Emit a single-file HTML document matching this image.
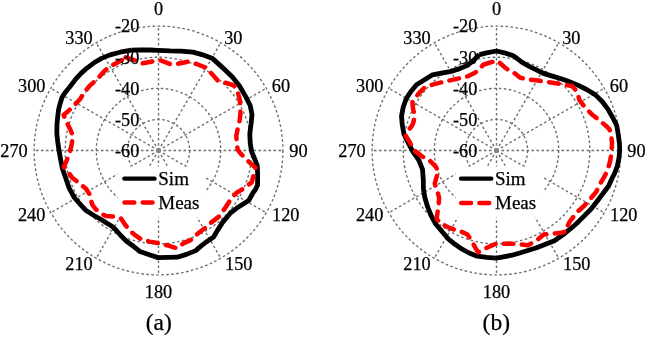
<!DOCTYPE html>
<html><head><meta charset="utf-8"><style>
html,body{margin:0;padding:0;background:#fff;overflow:hidden;}
svg{display:block;filter:blur(0.35px);}
text{font-family:"Liberation Serif",serif;font-size:18.3px;fill:#000;stroke:#000;stroke-width:0.25px;}
</style></head><body>
<svg width="646" height="338" viewBox="0 0 646 338">
<circle cx="158.5" cy="150.5" r="31.10" fill="none" stroke="#6c6c6c" stroke-width="1.35" stroke-dasharray="2.6 2.4"/>
<circle cx="158.5" cy="150.5" r="62.20" fill="none" stroke="#6c6c6c" stroke-width="1.35" stroke-dasharray="2.6 2.4"/>
<circle cx="158.5" cy="150.5" r="93.30" fill="none" stroke="#6c6c6c" stroke-width="1.35" stroke-dasharray="2.6 2.4"/>
<circle cx="158.5" cy="150.5" r="124.40" fill="none" stroke="#6c6c6c" stroke-width="1.35" stroke-dasharray="2.6 2.4"/>
<line x1="158.5" y1="150.5" x2="158.50" y2="26.10" stroke="#6c6c6c" stroke-width="1.35" stroke-dasharray="2.6 2.4"/>
<line x1="158.5" y1="150.5" x2="220.70" y2="42.77" stroke="#6c6c6c" stroke-width="1.35" stroke-dasharray="2.6 2.4"/>
<line x1="158.5" y1="150.5" x2="266.23" y2="88.30" stroke="#6c6c6c" stroke-width="1.35" stroke-dasharray="2.6 2.4"/>
<line x1="158.5" y1="150.5" x2="282.90" y2="150.50" stroke="#6c6c6c" stroke-width="1.35" stroke-dasharray="2.6 2.4"/>
<line x1="158.5" y1="150.5" x2="266.23" y2="212.70" stroke="#6c6c6c" stroke-width="1.35" stroke-dasharray="2.6 2.4"/>
<line x1="158.5" y1="150.5" x2="220.70" y2="258.23" stroke="#6c6c6c" stroke-width="1.35" stroke-dasharray="2.6 2.4"/>
<line x1="158.5" y1="150.5" x2="158.50" y2="274.90" stroke="#6c6c6c" stroke-width="1.35" stroke-dasharray="2.6 2.4"/>
<line x1="158.5" y1="150.5" x2="96.30" y2="258.23" stroke="#6c6c6c" stroke-width="1.35" stroke-dasharray="2.6 2.4"/>
<line x1="158.5" y1="150.5" x2="50.77" y2="212.70" stroke="#6c6c6c" stroke-width="1.35" stroke-dasharray="2.6 2.4"/>
<line x1="158.5" y1="150.5" x2="34.10" y2="150.50" stroke="#6c6c6c" stroke-width="1.35" stroke-dasharray="2.6 2.4"/>
<line x1="158.5" y1="150.5" x2="50.77" y2="88.30" stroke="#6c6c6c" stroke-width="1.35" stroke-dasharray="2.6 2.4"/>
<line x1="158.5" y1="150.5" x2="96.30" y2="42.77" stroke="#6c6c6c" stroke-width="1.35" stroke-dasharray="2.6 2.4"/>
<circle cx="158.5" cy="150.5" r="2.5" fill="#888"/>
<text x="158.5" y="9.0" text-anchor="middle" dominant-baseline="central">0</text>
<text x="233.3" y="37.8" text-anchor="middle" dominant-baseline="central">30</text>
<text x="281.0" y="85.8" text-anchor="middle" dominant-baseline="central">60</text>
<text x="298.5" y="150.5" text-anchor="middle" dominant-baseline="central">90</text>
<text x="285.8" y="214.7" text-anchor="middle" dominant-baseline="central">120</text>
<text x="238.8" y="263.5" text-anchor="middle" dominant-baseline="central">150</text>
<text x="158.5" y="291.9" text-anchor="middle" dominant-baseline="central">180</text>
<text x="79.0" y="263.5" text-anchor="middle" dominant-baseline="central">210</text>
<text x="31.6" y="215.0" text-anchor="middle" dominant-baseline="central">240</text>
<text x="14.0" y="150.5" text-anchor="middle" dominant-baseline="central">270</text>
<text x="31.8" y="85.8" text-anchor="middle" dominant-baseline="central">300</text>
<text x="79.0" y="37.8" text-anchor="middle" dominant-baseline="central">330</text>
<rect x="117.5" y="166.5" width="88" height="51" fill="#fff"/>
<polyline points="131.5,50.1 140.0,49.8 150.0,50.0 158.0,50.4 170.0,50.9 181.0,51.1 193.0,52.1 202.0,54.6 212.6,58.6 221.5,66.6 232.4,77.1 239.5,86.0 245.7,96.6 250.2,105.5 252.0,114.4 251.1,123.5 249.8,133.9 250.2,142.8 251.6,151.6 254.6,158.7 257.3,165.8 257.6,174.7 257.6,185.0 255.5,189.5 253.2,192.5 248.7,200.5 242.8,204.3 236.5,208.3 231.0,212.5 227.5,216.5 222.4,222.6 218.0,229.6 213.6,237.0 207.4,241.2 201.5,245.6 195.7,250.6 186.4,254.4 177.1,257.2 167.9,257.3 158.1,257.6 149.3,254.8 140.0,251.6 133.5,246.3 126.5,241.2 120.5,235.3 116.0,230.0 112.0,226.2 107.0,223.2 102.0,220.0 94.0,215.5 86.0,210.5 80.5,204.6 74.3,197.5 69.0,187.8 65.4,177.1 62.5,169.0 60.6,159.4 59.0,150.5 57.7,141.6 56.8,133.0 57.0,123.9 57.9,115.0 58.6,109.5 60.1,103.7 61.9,97.8 64.8,93.0 70.1,86.5 75.5,79.4 81.0,73.4 87.3,67.8 94.0,62.8 101.5,58.4 110.0,54.9 120.0,52.2 131.5,50.1" fill="none" stroke="#000" stroke-width="4.8" stroke-linejoin="round"/>
<polyline points="125.6,57.4 136.2,60.8 142.3,63.4 153.7,61.3 159.6,60.1 170.9,64.3 177.1,64.0 187.8,61.7 196.6,64.0 205.5,67.5 212.6,74.6 217.9,80.8 225.0,82.6 233.3,85.1 236.9,89.5 239.5,98.4 240.4,105.5 240.4,114.4 239.5,121.5 237.8,128.2 236.3,135.7 236.9,144.5 237.8,149.9 241.3,154.3 248.4,161.4 255.5,167.6 253.7,174.7 251.7,182.4 244.5,187.8 236.0,193.2 231.0,199.0 225.6,207.2 219.4,216.2 211.7,222.1 205.8,227.4 198.1,233.3 192.2,239.3 183.3,243.4 177.0,248.3 166.8,245.2 160.0,243.4 149.7,241.6 140.4,238.8 134.0,234.3 129.5,230.3 125.0,224.5 121.0,218.5 113.0,216.5 106.0,216.0 101.0,213.5 95.7,209.2 92.5,205.0 91.2,201.1 89.4,194.0 86.0,188.7 79.3,183.3 72.0,177.4 68.5,172.6 66.3,170.0 63.8,167.0 66.4,161.2 69.6,153.0 71.8,144.0 72.8,135.5 70.5,130.0 67.0,122.8 65.0,118.5 63.6,115.0 67.5,111.8 73.9,105.8 80.2,98.9 84.5,92.0 89.3,86.2 97.8,78.5 104.2,71.3 109.6,66.7 120.4,61.1 125.6,57.4" fill="none" stroke="#f00" stroke-width="4.5" stroke-dasharray="9.8 8.4" stroke-linecap="round" stroke-linejoin="round"/>
<text x="139.4" y="151.0" text-anchor="end" dominant-baseline="central">-60</text>
<text x="139.4" y="120.3" text-anchor="end" dominant-baseline="central">-50</text>
<text x="139.4" y="89.2" text-anchor="end" dominant-baseline="central">-40</text>
<text x="139.4" y="58.3" text-anchor="end" dominant-baseline="central">-30</text>
<text x="139.4" y="26.1" text-anchor="end" dominant-baseline="central">-20</text>
<line x1="124.3" y1="178.7" x2="154.6" y2="178.7" stroke="#000" stroke-width="4.3" stroke-linecap="round"/>
<line x1="124.5" y1="202.5" x2="154.5" y2="202.5" stroke="#f00" stroke-width="4.5" stroke-dasharray="9.8 8.4" stroke-linecap="round"/>
<text x="158.3" y="184.9" style="font-size:19px">Sim</text>
<text x="158.3" y="209.0" style="font-size:19px">Meas</text>
<text x="158.7" y="330.4" text-anchor="middle" style="font-size:23.5px">(a)</text>
<circle cx="496.5" cy="150.5" r="31.10" fill="none" stroke="#6c6c6c" stroke-width="1.35" stroke-dasharray="2.6 2.4"/>
<circle cx="496.5" cy="150.5" r="62.20" fill="none" stroke="#6c6c6c" stroke-width="1.35" stroke-dasharray="2.6 2.4"/>
<circle cx="496.5" cy="150.5" r="93.30" fill="none" stroke="#6c6c6c" stroke-width="1.35" stroke-dasharray="2.6 2.4"/>
<circle cx="496.5" cy="150.5" r="124.40" fill="none" stroke="#6c6c6c" stroke-width="1.35" stroke-dasharray="2.6 2.4"/>
<line x1="496.5" y1="150.5" x2="496.50" y2="26.10" stroke="#6c6c6c" stroke-width="1.35" stroke-dasharray="2.6 2.4"/>
<line x1="496.5" y1="150.5" x2="558.70" y2="42.77" stroke="#6c6c6c" stroke-width="1.35" stroke-dasharray="2.6 2.4"/>
<line x1="496.5" y1="150.5" x2="604.23" y2="88.30" stroke="#6c6c6c" stroke-width="1.35" stroke-dasharray="2.6 2.4"/>
<line x1="496.5" y1="150.5" x2="620.90" y2="150.50" stroke="#6c6c6c" stroke-width="1.35" stroke-dasharray="2.6 2.4"/>
<line x1="496.5" y1="150.5" x2="604.23" y2="212.70" stroke="#6c6c6c" stroke-width="1.35" stroke-dasharray="2.6 2.4"/>
<line x1="496.5" y1="150.5" x2="558.70" y2="258.23" stroke="#6c6c6c" stroke-width="1.35" stroke-dasharray="2.6 2.4"/>
<line x1="496.5" y1="150.5" x2="496.50" y2="274.90" stroke="#6c6c6c" stroke-width="1.35" stroke-dasharray="2.6 2.4"/>
<line x1="496.5" y1="150.5" x2="434.30" y2="258.23" stroke="#6c6c6c" stroke-width="1.35" stroke-dasharray="2.6 2.4"/>
<line x1="496.5" y1="150.5" x2="388.77" y2="212.70" stroke="#6c6c6c" stroke-width="1.35" stroke-dasharray="2.6 2.4"/>
<line x1="496.5" y1="150.5" x2="372.10" y2="150.50" stroke="#6c6c6c" stroke-width="1.35" stroke-dasharray="2.6 2.4"/>
<line x1="496.5" y1="150.5" x2="388.77" y2="88.30" stroke="#6c6c6c" stroke-width="1.35" stroke-dasharray="2.6 2.4"/>
<line x1="496.5" y1="150.5" x2="434.30" y2="42.77" stroke="#6c6c6c" stroke-width="1.35" stroke-dasharray="2.6 2.4"/>
<circle cx="496.5" cy="150.5" r="2.5" fill="#888"/>
<text x="496.5" y="9.0" text-anchor="middle" dominant-baseline="central">0</text>
<text x="571.3" y="37.8" text-anchor="middle" dominant-baseline="central">30</text>
<text x="619.0" y="85.8" text-anchor="middle" dominant-baseline="central">60</text>
<text x="636.5" y="150.5" text-anchor="middle" dominant-baseline="central">90</text>
<text x="623.8" y="214.7" text-anchor="middle" dominant-baseline="central">120</text>
<text x="576.8" y="263.5" text-anchor="middle" dominant-baseline="central">150</text>
<text x="496.5" y="291.9" text-anchor="middle" dominant-baseline="central">180</text>
<text x="417.0" y="263.5" text-anchor="middle" dominant-baseline="central">210</text>
<text x="369.6" y="215.0" text-anchor="middle" dominant-baseline="central">240</text>
<text x="352.0" y="150.5" text-anchor="middle" dominant-baseline="central">270</text>
<text x="369.8" y="85.8" text-anchor="middle" dominant-baseline="central">300</text>
<text x="417.0" y="37.8" text-anchor="middle" dominant-baseline="central">330</text>
<rect x="455.5" y="166.5" width="88" height="51" fill="#fff"/>
<polyline points="479.5,54.6 486.6,52.9 496.5,51.0 504.4,52.8 513.3,55.8 515.0,56.9 522.1,62.4 529.2,66.3 536.3,69.9 543.4,73.4 552.3,76.1 561.2,78.7 568.9,81.5 577.8,85.1 586.6,89.5 595.5,94.9 602.6,102.0 607.9,109.1 612.4,117.0 616.6,125.2 618.2,134.2 619.4,143.1 619.7,150.1 619.1,157.3 617.3,166.2 614.6,173.3 612.2,178.0 608.6,186.0 603.2,193.3 597.1,201.3 590.9,209.2 583.8,216.4 576.6,223.5 570.0,229.2 563.3,234.5 554.4,240.7 545.5,244.3 536.6,247.8 527.8,250.5 518.9,253.2 512.0,255.2 504.7,256.6 496.2,258.2 487.0,257.4 477.2,256.2 469.2,253.0 462.1,249.2 455.0,244.3 447.9,238.6 442.0,231.4 436.0,224.5 431.1,215.5 427.5,206.6 424.9,197.8 423.4,188.9 423.3,180.0 422.5,169.4 419.0,160.5 412.8,151.6 408.3,142.8 403.9,133.9 402.3,125.0 401.5,116.2 403.2,107.3 406.2,98.8 410.5,92.0 416.5,84.8 424.2,79.9 432.5,74.8 441.4,73.2 450.1,71.6 459.1,68.9 467.5,65.4 474.6,59.2 479.5,54.6" fill="none" stroke="#000" stroke-width="4.8" stroke-linejoin="round"/>
<polyline points="483.1,64.8 490.2,62.5 497.3,60.7 504.4,67.0 511.5,72.3 515.0,73.4 520.3,77.8 529.2,79.6 538.1,80.5 547.0,81.9 555.8,83.2 564.2,84.5 572.2,86.3 576.9,91.3 579.5,100.2 584.9,107.3 592.0,114.4 600.8,121.5 607.0,126.8 609.5,129.5 611.1,134.2 612.0,143.1 611.6,152.0 610.2,160.8 607.7,170.0 604.2,177.0 599.9,184.2 596.3,191.8 590.2,199.0 584.0,206.0 577.7,211.5 573.2,217.0 569.5,222.0 567.7,225.7 566.8,231.0 561.5,232.8 552.6,233.6 543.7,234.5 538.4,239.0 533.1,242.5 527.8,245.2 518.9,244.3 510.0,243.6 504.7,243.8 496.7,243.4 490.5,246.1 483.4,249.6 478.1,252.3 475.4,247.8 471.0,239.9 467.4,234.5 460.3,231.2 456.8,230.6 449.7,227.9 440.8,223.5 436.6,218.9 437.6,212.0 438.7,204.9 439.1,197.8 437.3,190.7 434.7,183.6 436.7,176.5 438.5,172.0 435.8,166.7 429.6,160.5 421.6,156.1 413.6,149.9 410.1,142.8 405.7,135.7 408.3,130.3 411.9,125.9 413.1,123.3 414.9,116.2 413.1,109.1 412.4,102.2 413.6,100.4 418.7,93.4 424.6,87.6 432.5,84.6 441.4,82.4 450.1,80.4 459.1,78.3 467.9,76.2 475.0,72.8 480.0,68.5 483.1,64.8" fill="none" stroke="#f00" stroke-width="4.5" stroke-dasharray="9.8 8.4" stroke-linecap="round" stroke-linejoin="round"/>
<text x="477.4" y="151.0" text-anchor="end" dominant-baseline="central">-60</text>
<text x="477.4" y="120.3" text-anchor="end" dominant-baseline="central">-50</text>
<text x="477.4" y="89.2" text-anchor="end" dominant-baseline="central">-40</text>
<text x="477.4" y="58.3" text-anchor="end" dominant-baseline="central">-30</text>
<text x="477.4" y="26.1" text-anchor="end" dominant-baseline="central">-20</text>
<line x1="461.0" y1="178.7" x2="491.3" y2="178.7" stroke="#000" stroke-width="4.3" stroke-linecap="round"/>
<line x1="461.2" y1="202.9" x2="491.2" y2="202.9" stroke="#f00" stroke-width="4.5" stroke-dasharray="9.8 8.4" stroke-linecap="round"/>
<text x="495.0" y="184.9" style="font-size:19px">Sim</text>
<text x="495.0" y="209.0" style="font-size:19px">Meas</text>
<text x="496.3" y="330.4" text-anchor="middle" style="font-size:23.5px">(b)</text>
</svg>
</body></html>
